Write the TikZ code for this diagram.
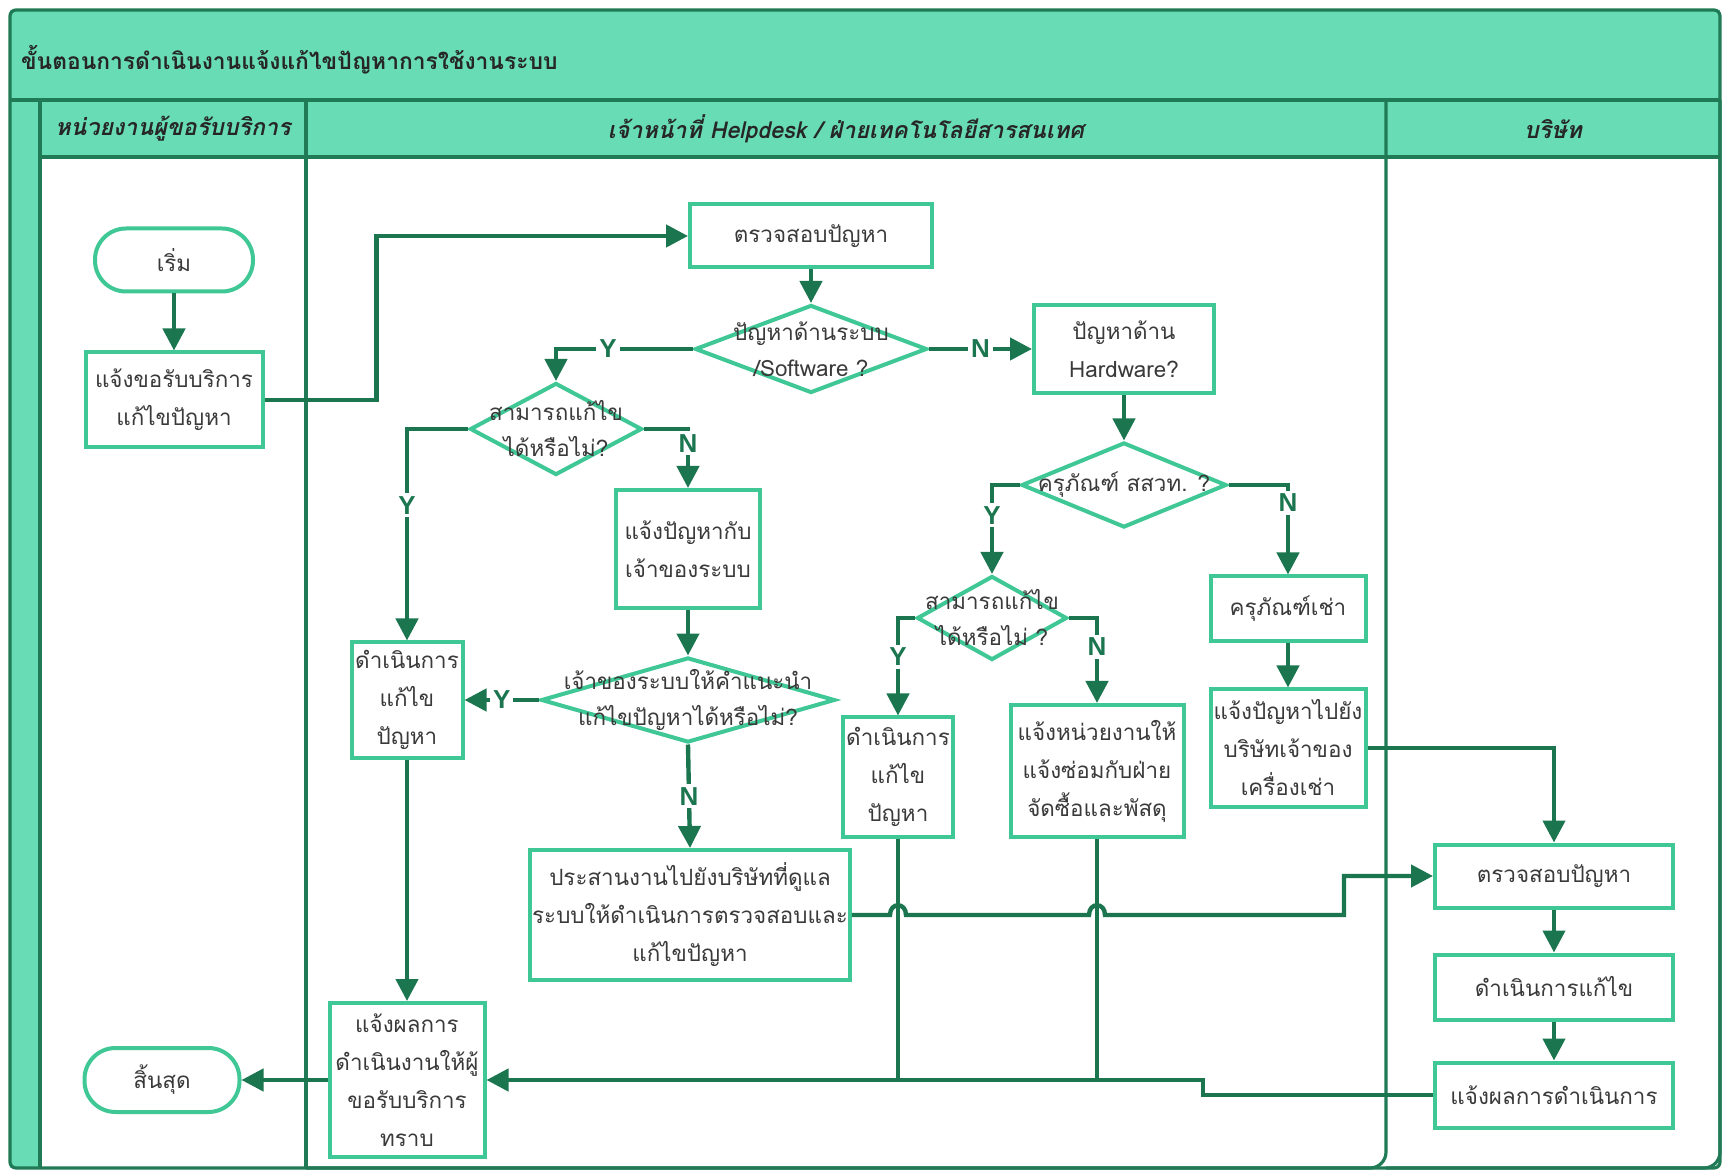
\documentclass[tikz,border=0pt]{standalone}
\usepackage{fontspec}
\newfontfamily\thaifont[Script=Thai]{Loma}
\newfontfamily\ynfont{Liberation Sans}
\usetikzlibrary{shapes.geometric,arrows.meta,calc}
\definecolor{tealfill}{HTML}{68DCB4}
\definecolor{laneline}{HTML}{1F7A55}
\definecolor{nodeline}{HTML}{3FC795}
\definecolor{arrowc}{HTML}{1B7650}
\definecolor{txtc}{HTML}{3A3A3A}
\begin{document}
\begin{tikzpicture}[x=0.5pt,y=-0.5pt,
  sz/.style 2 args={minimum width=#1*0.5pt, minimum height=#2*0.5pt},
  box/.style={draw=nodeline, line width=2pt, fill=white, rectangle, align=center, inner sep=1pt,
    font=\thaifont\fontsize{11.2}{19}\selectfont, text=txtc},
  term/.style={box, rounded corners=15.5pt},
  dia/.style={draw=nodeline, line width=2pt, diamond, inner sep=0pt, fill=white},
  dtext/.style={align=center, inner sep=0pt, font=\thaifont\fontsize{11.2}{18}\selectfont, text=txtc},
  arr/.style={draw=arrowc, line width=2.2pt, -{Triangle[length=11pt,width=11pt]}},
  ln/.style={draw=arrowc, line width=2.2pt},
  yn/.style={font=\ynfont\bfseries\fontsize{13}{13}\selectfont, text=arrowc, fill=white, inner sep=1.5pt},
  hdr/.style={font=\thaifont\bfseries\fontsize{11.4}{14}\selectfont, text=black!85},
  hdri/.style={font=\thaifont\bfseries\itshape\fontsize{11.6}{14}\selectfont, text=black!85},
  lane/.style={draw=laneline, line width=1.6pt}
]
\useasboundingbox (0,0) rectangle (1726,1171);
\fill[white] (0,0) rectangle (1726,1171);
% ---- swimlane frame ----
\fill[tealfill] (10,10) rectangle (1720,157);
\fill[tealfill] (10,100) rectangle (40,1168);
\draw[lane] (10,100) -- (1720,100);
\draw[lane] (40,157) -- (1720,157);
\draw[lane] (40,100) -- (40,1168);
\draw[lane] (306,100) -- (306,1168);
\draw[lane, rounded corners=8pt] (306,1168) -- (1386,1168) -- (1386,100);
\draw[lane, rounded corners=8pt] (1386,1168) -- (1720,1168) -- (1720,100);
\draw[lane, rounded corners=3pt] (10,10) rectangle (1720,1168);
% ---- headers ----
\node[hdr, anchor=west] (title) at (14,60) {ขั้นตอนการดำเนินงานแจ้งแก้ไขปัญหาการใช้งานระบบ};
\node[hdri] (h1) at (173,129) {หน่วยงานผู้ขอรับบริการ};
\node[hdri] (h2) at (846,129) {เจ้าหน้าที่ Helpdesk / ฝ่ายเทคโนโลยีสารสนเทศ};
\node[hdri] (h3) at (1553,129) {บริษัท};
% ---- nodes ----
\node[term, sz={158}{63}] (start) at (174,260) {เริ่ม};
\node[box, sz={177}{95}] (req) at (174,400) {แจ้งขอรับบริการ\\แก้ไขปัญหา};
\node[box, sz={242}{63}] (chk1) at (811,236) {ตรวจสอบปัญหา};
\node[dia, sz={232}{88}] (d1) at (811,349) {};
\node[dtext] (d1t) at (d1) {ปัญหาด้านระบบ\\/Software ?};
\node[box, sz={180}{88}] (hw) at (1124,349) {ปัญหาด้าน\\Hardware?};
\node[dia, sz={172}{92}] (d2) at (556,429) {};
\node[dtext] (d2t) at (d2) {สามารถแก้ไข\\ได้หรือไม่?};
\node[box, sz={144}{118}] (own) at (688,549) {แจ้งปัญหากับ\\เจ้าของระบบ};
\node[dia, sz={205}{85}] (d3) at (1124,485) {};
\node[dtext] (d3t) at (d3) {ครุภัณฑ์ สสวท. ?};
\node[dia, sz={150}{84}] (d4) at (992,618) {};
\node[dtext] (d4t) at (d4) {สามารถแก้ไข\\ได้หรือไม่ ?};
\node[box, sz={155}{65}] (rent) at (1288,609) {ครุภัณฑ์เช่า};
\node[box, sz={155}{117}] (ntf) at (1288,748) {แจ้งปัญหาไปยัง\\บริษัทเจ้าของ\\เครื่องเช่า};
\node[dia, sz={294}{85}] (d5) at (688,700) {};
\node[dtext] (d5t) at (d5) {เจ้าของระบบให้คำแนะนำ\\แก้ไขปัญหาได้หรือไม่?};
\node[box, sz={111}{115}] (fix1) at (407,700) {ดำเนินการ\\แก้ไข\\ปัญหา};
\node[box, sz={305}{130}] (coord) at (690,915) {ประสานงานไปยังบริษัทที่ดูแล\\ระบบให้ดำเนินการตรวจสอบและ\\แก้ไขปัญหา};
\node[box, sz={110}{119}] (fix2) at (898,777) {ดำเนินการ\\แก้ไข\\ปัญหา};
\node[box, sz={173}{132}] (inf) at (1097,771) {แจ้งหน่วยงานให้\\แจ้งซ่อมกับฝ่าย\\จัดซื้อและพัสดุ};
\node[box, sz={238}{63}] (cchk) at (1554,876) {ตรวจสอบปัญหา};
\node[box, sz={238}{65}] (cfix) at (1554,987) {ดำเนินการแก้ไข};
\node[box, sz={238}{65}] (crep) at (1554,1095) {แจ้งผลการดำเนินการ};
\node[box, sz={155}{154}] (rep) at (407,1080) {แจ้งผลการ\\ดำเนินงานให้ผู้\\ขอรับบริการ\\ทราบ};
\node[term, sz={155}{64}] (end) at (162,1080) {สิ้นสุด};
% ---- connectors ----
\draw[arr] (start) -- (req);
\draw[arr] (req.east) -- ++(112,0) |- (chk1.west);
\draw[arr] (chk1) -- (d1);
\draw[arr] (d1.west) -| (d2.north) node[yn, pos=0.31] {Y};
\draw[arr] (d1.east) -- (hw.west) node[yn, pos=0.5] {N};
\draw[arr] (d2.east) -| (own.north) node[yn, pos=0.62] {N};
\draw[arr] (d2.west) -| (fix1.north) node[yn, pos=0.68] {Y};
\draw[arr] (own) -- (d5);
\draw[arr] (d5.west) -- (fix1.east) node[yn, pos=0.5] {Y};
\draw[arr] (d5.south) -- (coord.north) node[yn, pos=0.5] {N};
\draw[arr] (hw) -- (d3);
\draw[arr] (d3.west) -| (d4.north) node[yn, pos=0.67] {Y};
\draw[arr] (d3.east) -| (rent.north) node[yn, pos=0.6] {N};
\draw[arr] (d4.west) -| (fix2.north) node[yn, pos=0.7] {Y};
\draw[arr] (d4.east) -| (inf.north) node[yn, pos=0.67] {N};
\draw[arr] (rent) -- (ntf);
\draw[arr] (ntf.east) -| (cchk.north);
\draw[arr] (coord.east) -- ($(fix2.south |- coord.east)+(-8,0)$)
   .. controls ($(fix2.south |- coord.east)+(-8,-13)$) and ($(fix2.south |- coord.east)+(8,-13)$) .. ($(fix2.south |- coord.east)+(8,0)$)
   -- ($(inf.south |- coord.east)+(-8,0)$)
   .. controls ($(inf.south |- coord.east)+(-8,-13)$) and ($(inf.south |- coord.east)+(8,-13)$) .. ($(inf.south |- coord.east)+(8,0)$)
   -- (1344,915) |- (cchk.west);
\draw[arr] (cchk) -- (cfix);
\draw[arr] (cfix) -- (crep);
\draw[arr] (crep.west) -- ++(-230,0) |- (rep.east);
\draw[ln] (fix2.south) -- (fix2.south |- rep.east);
\draw[ln] (inf.south) -- (inf.south |- rep.east);
\draw[arr] (fix1) -- (rep);
\draw[arr] (rep.west) -- (end.east);
\end{tikzpicture}
\end{document}
